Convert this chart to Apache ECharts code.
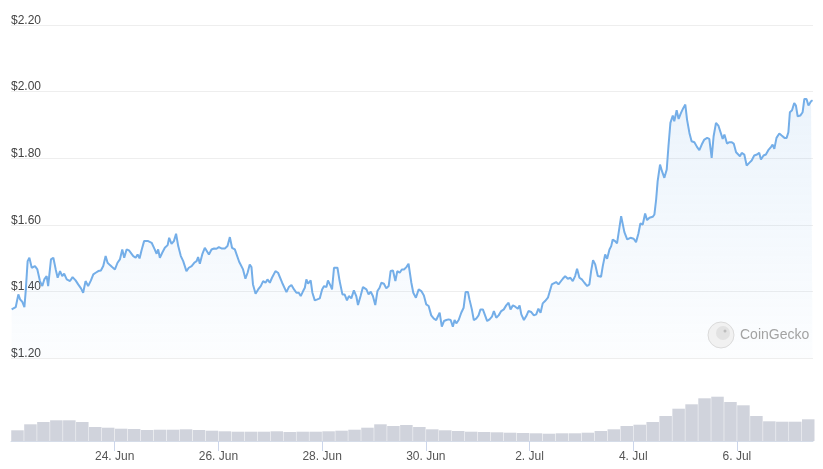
<!DOCTYPE html>
<html>
<head>
<meta charset="utf-8">
<title>Price chart</title>
<script src="https://cdn.jsdelivr.net/npm/echarts@6.0.0/dist/echarts.min.js"></script>
<style>
  html, body { margin: 0; padding: 0; background: #fff; }
  #chart { width: 823px; height: 469px; }
</style>
</head>
<body>
<div id="chart"></div>
<script>
// hours since 22 Jun 00:00
var priceHours = [
  0.3,2.2,3.4,4.2,5.2,6.2,6.8,7.7,8.5,9.6,
  11.1,12.2,13.4,14.5,15.4,16.5,17.2,18.5,19.6,20.7,
  21.6,22.7,23.7,24.6,25.8,27.3,28.5,29.9,31.1,32.4,
  33.4,34.5,35.7,37.0,38.1,39.2,40.4,41.6,42.7,43.8,
  44.7,45.8,46.8,48.1,49.3,50.4,51.5,52.4,53.5,54.6,
  55.5,56.6,57.7,58.6,59.5,60.4,61.6,63.5,65.1,66.3,
  67.4,68.1,68.9,70.0,71.2,72.5,73.2,74.3,75.4,76.4,
  77.4,78.6,79.7,81.2,82.3,83.6,84.8,85.9,86.6,87.4,
  88.6,89.7,
  90.5,91.6,92.8,94.0,95.1,96.2,97.4,99.0,100.2,101.3,
  102.3,103.6,104.5,105.6,106.4,107.4,108.5,109.5,110.5,111.3,
  112.0,113.2,114.4,115.6,116.7,117.8,118.7,119.8,120.8,122.4,
  123.6,124.4,125.5,126.4,127.5,128.6,129.8,131.0,132.1,133.2,
  134.1,135.2,136.0,136.7,137.5,138.7,139.5,140.6,141.8,142.9,
  144.0,144.9,146.0,146.7,148.0,148.6,149.5,151.1,152.1,153.4,
  154.4,155.5,156.4,157.5,158.7,159.8,160.6,161.8,162.9,164.5,
  165.5,166.5,167.5,168.6,169.6,170.6,171.4,172.6,173.7,174.8,
  175.7,176.8,177.9,178.8,179.9,180.9,181.9,183.0,184.0,
  185.3,186.2,187.4,188.7,189.9,191.1,192.2,193.3,194.5,195.7,
  196.8,197.6,198.4,199.4,200.4,201.5,202.5,203.5,204.5,205.3,
  206.1,207.2,208.4,209.5,210.4,211.5,212.2,213.3,214.2,215.3,
  216.4,217.3,218.4,219.2,220.4,221.5,222.6,223.5,224.6,225.7,
  226.9,228.1,229.2,230.3,231.2,232.3,233.4,234.6,235.4,236.2,
  237.4,238.5,239.5,240.8,242.0,243.1,244.1,245.1,246.1,247.2,
  248.5,249.2,250.3,251.2,252.3,253.4,254.3,255.4,256.5,257.7,
  258.9,260.0,261.1,262.0,263.1,264.2,265.4,266.7,267.7,268.5,
  269.4,270.4,271.6,273.1,273.9,275.0,275.9,277.0,277.8,278.5,
  279.6,280.5,282.4,
  283.9,285.2,286.7,288.2,289.3,290.4,291.3,292.4,293.5,294.4,
  295.5,297.0,297.8,298.6,299.3,300.4,301.3,302.4,303.5,304.3,
  305.2,306.3,307.0,308.1,309.0,310.1,311.2,312.1,312.9,314.0,
  315.0,316.3,317.5,318.6,319.7,320.9,322.2,323.2,324.3,325.2,
  326.3,327.4,328.3,329.4,330.2,331.4,332.5,333.5,334.5,335.6,
  336.3,337.4,338.2,339.4,340.5,341.7,342.8,344.0,345.3,346.3,
  347.1,348.3,349.4,350.5,351.8,352.5,353.3,354.3,355.6,356.7,
  358.0,359.0,359.8,360.5,361.5,362.5,363.3,364.1,365.3,366.4,
  367.2,368.2,369.1,370.3,371.0
];

var prices = [
  1.346,1.353,1.391,1.376,1.369,1.353,1.400,1.491,1.501,1.471,
  1.476,1.466,1.431,1.416,1.436,1.446,1.416,1.496,1.501,1.466,
  1.441,1.461,1.446,1.453,1.436,1.431,1.443,1.433,1.421,1.409,
  1.396,1.431,1.416,1.433,1.451,1.456,1.461,1.463,1.476,1.506,
  1.486,1.479,1.473,1.466,1.486,1.496,1.526,1.501,1.526,1.523,
  1.529,1.506,1.501,1.511,1.499,1.523,1.551,1.551,1.546,1.529,
  1.513,1.526,1.501,1.516,1.531,1.539,1.561,1.543,1.551,1.573,
  1.536,1.506,1.491,1.461,1.471,1.476,1.486,1.491,1.503,1.483,
  1.513,1.531,
  1.533,1.511,1.526,1.529,1.528,1.533,1.529,1.529,1.536,1.563,
  1.531,1.526,1.521,1.489,1.486,1.466,1.438,1.456,1.481,1.473,
  1.421,1.393,1.406,1.416,1.431,1.426,1.436,1.426,1.441,1.461,
  1.456,1.456,1.426,1.426,1.398,1.413,1.419,1.406,1.396,1.396,
  1.386,1.401,1.411,1.436,1.423,1.433,1.396,1.373,1.376,1.379,
  1.406,1.416,1.413,1.433,1.416,1.406,1.471,1.471,1.431,1.391,
  1.391,1.373,1.386,1.379,1.403,1.386,1.359,1.386,1.413,1.406,
  1.391,1.399,1.386,1.359,1.401,1.411,1.426,1.423,1.409,1.416,
  1.461,1.463,1.431,1.461,1.456,1.466,1.466,1.473,1.483,
  1.426,1.396,1.381,1.406,1.401,1.388,1.361,1.356,1.328,1.318,
  1.314,1.318,1.336,1.294,1.311,1.314,1.316,1.314,1.294,1.314,
  1.304,1.314,1.336,1.351,1.398,1.398,1.376,1.346,1.314,1.318,
  1.328,1.346,1.346,1.341,1.311,1.316,1.324,1.341,1.321,1.328,
  1.341,1.346,1.358,1.366,1.346,1.358,1.354,1.348,1.358,1.331,
  1.314,1.326,1.341,1.338,1.328,1.331,1.348,1.336,1.364,1.371,
  1.381,1.376,1.421,1.418,1.428,1.421,1.418,1.438,1.446,1.438,
  1.441,1.431,1.446,1.468,1.441,1.436,1.426,1.416,1.421,1.461,
  1.494,1.481,1.446,1.444,1.476,1.511,1.498,1.526,1.536,1.556,
  1.551,1.544,1.626,
  1.578,1.556,1.561,1.558,1.548,1.574,1.604,1.601,1.634,1.614,
  1.621,1.624,1.631,1.676,1.731,1.781,1.761,1.741,1.766,1.836,
  1.906,1.928,1.911,1.944,1.918,1.936,1.951,1.961,1.916,1.876,
  1.851,1.848,1.834,1.824,1.841,1.856,1.861,1.858,1.801,1.866,
  1.906,1.898,1.896,1.858,1.871,1.844,1.848,1.848,1.844,1.818,
  1.821,1.806,1.816,1.811,1.778,1.786,1.793,1.808,1.811,1.816,
  1.796,1.808,1.811,1.824,1.834,1.841,1.828,1.861,1.874,1.868,
  1.861,1.861,1.878,1.938,1.944,1.966,1.958,1.926,1.928,1.938,
  1.978,1.978,1.958,1.971,1.974
];

// volume, 6-hour blocks (centre hour)
var volumeHours = [
  3,9,15,21,27,33,39,45,51,57,63,69,75,81,87,93,99,105,111,117,
  123,129,135,141,147,153,159,165,171,177,183,189,195,201,207,213,219,225,231,237,
  243,249,255,261,267,273,279,285,291,297,303,309,315,321,327,333,339,345,351,357,
  363,369
];
var volumes = [
  10.7,16.7,19,20.7,20.7,19,14,13.3,12.3,12,11,11.3,11.3,11.7,11,10.3,9.7,9.3,9.3,9.3,
  9.7,9,9.3,9.3,9.7,10.3,11.3,13.3,16.7,15,16,14,11.7,10.7,10,9.3,9,8.7,8.3,8,
  7.7,7.3,7.7,7.7,8.3,10,11.7,15,16.3,19,25,32.3,36.7,42.7,44.3,39,35.7,25,19.7,19.3,
  19.3,21.7
];

var tickHours = [48, 96, 144, 192, 240, 288, 336];
var tickLabels = ['24. Jun', '26. Jun', '28. Jun', '30. Jun', '2. Jul', '4. Jul', '6. Jul'];

var xMax = 371.2;

var priceData = priceHours.map(function(h, i) { return [h, prices[i]]; });
var volumeData = volumeHours.map(function(h, i) { return [h, volumes[i]]; });

var chart = echarts.init(document.getElementById('chart'), null, { renderer: 'canvas' });

chart.setOption({
    animation: false,
    textStyle: { fontFamily: '"Liberation Sans", Arial, sans-serif' },
    grid: [
        { left: 11, right: 10, top: 25, height: 333 },
        { left: 11, right: 10, top: 395, height: 46 }
    ],
    xAxis: [{
        type: 'value', gridIndex: 0, min: 0, max: xMax,
        axisLine: { show: false }, axisTick: { show: false },
        axisLabel: { show: false }, splitLine: { show: false }
    }, {
        type: 'value', gridIndex: 1, min: 0, max: xMax,
        axisLine: { show: true, onZero: false, lineStyle: { color: '#d5dce8', width: 1 } },
        axisTick: { show: true, customValues: tickHours, length: 10, lineStyle: { color: '#ccd6eb' } },
        axisLabel: {
            customValues: tickHours, margin: 10,
            color: '#555', fontSize: 12,
            formatter: function(v) {
                var i = tickHours.indexOf(v);
                return i < 0 ? '' : tickLabels[i];
            }
        },
        splitLine: { show: false }
    }],
    yAxis: [{
        type: 'value', gridIndex: 0, min: 1.2, max: 2.2, interval: 0.2,
        axisLine: { show: false }, axisTick: { show: false },
        axisLabel: {
            inside: true, margin: 0, verticalAlign: 'bottom', lineHeight: 9, padding: 0,
            color: '#444', fontSize: 12,
            formatter: function(v) { return '$' + v.toFixed(2); }
        },
        splitLine: { lineStyle: { color: '#eeeeee', width: 1 } }
    }, {
        type: 'value', gridIndex: 1, min: 0, max: 46,
        axisLine: { show: false }, axisTick: { show: false },
        axisLabel: { show: false }, splitLine: { show: false }
    }],
    series: [{
        name: 'Price',
        type: 'line',
        xAxisIndex: 0, yAxisIndex: 0,
        data: priceData,
        showSymbol: false,
        lineStyle: { color: '#74aee8', width: 2 },
        areaStyle: {
            color: new echarts.graphic.LinearGradient(0, 0, 0, 1, [
                { offset: 0, color: 'rgba(116,174,232,0.2)' },
                { offset: 1, color: 'rgba(116,174,232,0.03)' }
            ])
        },
        z: 3
    }, {
        name: 'Volume',
        type: 'bar',
        xAxisIndex: 1, yAxisIndex: 1,
        data: volumeData,
        barWidth: 12.5,
        itemStyle: { color: '#d0d3dc' }
    }],
    graphic: [{
        type: 'circle',
        shape: { cx: 721, cy: 335, r: 13 },
        style: { fill: '#f1f1f1', stroke: '#dadada', lineWidth: 1 },
        z: 10
    }, {
        type: 'circle',
        shape: { cx: 723, cy: 333, r: 7 },
        style: { fill: '#e2e2e2' },
        z: 11
    }, {
        type: 'circle',
        shape: { cx: 725, cy: 331, r: 1.5 },
        style: { fill: '#bdbdbd' },
        z: 12
    }, {
        type: 'text',
        left: 740, top: 328,
        style: { text: 'CoinGecko', fill: '#a3a3a3', font: '14px "Liberation Sans", Arial, sans-serif' },
        z: 10
    }]
});
</script>
</body>
</html>
